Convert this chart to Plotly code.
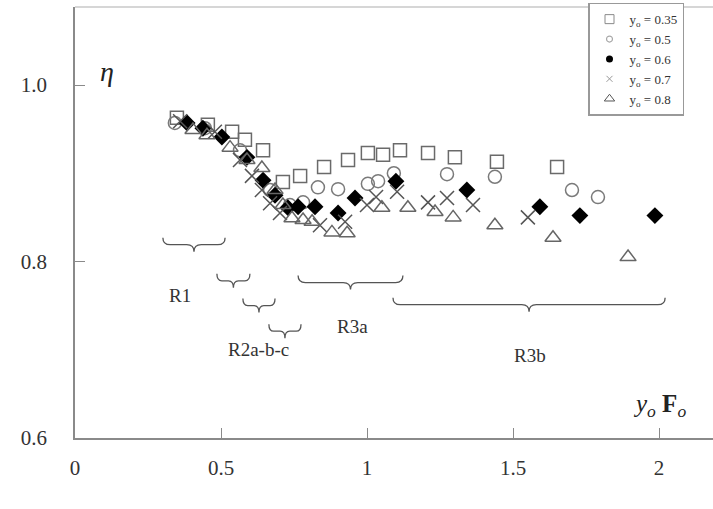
import plotly.graph_objects as go

# ---- data ----
x_035 = [0.349, 0.455, 0.538, 0.582, 0.644, 0.712, 0.771, 0.853, 0.935, 1.003, 1.055, 1.113, 1.209, 1.301, 1.445, 1.651]
y_035 = [0.963, 0.955, 0.947, 0.938, 0.926, 0.890, 0.897, 0.907, 0.915, 0.923, 0.921, 0.926, 0.923, 0.918, 0.913, 0.907]

x_05 = [0.342, 0.445, 0.565, 0.668, 0.736, 0.781, 0.832, 0.901, 1.003, 1.038, 1.092, 1.274, 1.438, 1.702, 1.791]
y_05 = [0.957, 0.951, 0.926, 0.881, 0.864, 0.867, 0.884, 0.882, 0.888, 0.891, 0.900, 0.899, 0.896, 0.881, 0.873]

x_06 = [0.384, 0.438, 0.503, 0.589, 0.644, 0.685, 0.729, 0.764, 0.822, 0.901, 0.959, 1.099, 1.342, 1.592, 1.729, 1.986]
y_06 = [0.957, 0.951, 0.941, 0.918, 0.892, 0.875, 0.861, 0.862, 0.862, 0.855, 0.872, 0.891, 0.881, 0.862, 0.852, 0.852]

x_07 = [0.360, 0.479, 0.565, 0.606, 0.640, 0.668, 0.702, 0.839, 0.925, 1.000, 1.031, 1.103, 1.209, 1.274, 1.363, 1.551]
y_07 = [0.959, 0.947, 0.915, 0.897, 0.881, 0.866, 0.855, 0.841, 0.845, 0.864, 0.873, 0.879, 0.867, 0.872, 0.864, 0.850]

x_08 = [0.404, 0.452, 0.531, 0.589, 0.640, 0.685, 0.712, 0.743, 0.781, 0.812, 0.880, 0.932, 1.051, 1.140, 1.233, 1.295, 1.438, 1.637, 1.894]
y_08 = [0.949, 0.943, 0.929, 0.915, 0.906, 0.881, 0.864, 0.849, 0.847, 0.845, 0.833, 0.832, 0.861, 0.861, 0.856, 0.850, 0.841, 0.827, 0.805]

legend_labels = ["y<sub>o</sub> = 0.35", "y<sub>o</sub> = 0.5", "y<sub>o</sub> = 0.6",
                 "y<sub>o</sub> = 0.7", "y<sub>o</sub> = 0.8"]

x_tick_vals = [0, 0.5, 1, 1.5, 2]
x_tick_text = ["0", "0.5", "1", "1.5", "2"]
y_tick_vals = [0.6, 0.8, 1.0]
y_tick_text = ["0.6", "0.8", "1.0"]

# regime braces: start, end, top level
brace_x0 = [0.301, 0.486, 0.575, 0.664, 0.764, 1.089]
brace_x1 = [0.514, 0.599, 0.685, 0.774, 1.123, 2.021]
brace_y = [0.827, 0.786, 0.758, 0.729, 0.784, 0.759]
region_labels = ["R1", "R2a-b-c", "R3a", "R3b"]
region_x = [0.360, 0.627, 0.949, 1.558]
region_y = [0.762, 0.700, 0.726, 0.693]

SERIF = "Liberation Serif"
GRAY = "#8a8a8a"

fig = go.Figure()

series = [
    (x_035, y_035, dict(symbol="square-open", size=13, color="#6a6a6a", line=dict(width=1.5))),
    (x_05, y_05, dict(symbol="circle-open", size=13, color="#7a7a7a", line=dict(width=1.5))),
    (x_06, y_06, dict(symbol="diamond", size=13, color="#000000", line=dict(width=0))),
    (x_07, y_07, dict(symbol="x-thin-open", size=14, color="#555555", line=dict(width=1.5))),
    (x_08, y_08, dict(symbol="triangle-up-open", size=14, color="#666666", line=dict(width=1.5))),
]
for xs, ys, mk in series:
    fig.add_trace(go.Scatter(x=xs, y=ys, mode="markers", marker=mk,
                             showlegend=False, hoverinfo="skip"))

legend_markers = [
    dict(symbol="square-open", size=9, color="#8a8a8a", line=dict(width=1)),
    dict(symbol="circle-open", size=6, color="#aaaaaa", line=dict(width=1.2)),
    dict(symbol="circle", size=7, color="#000000"),
    dict(symbol="x-thin-open", size=6, color="#999999", line=dict(width=1)),
    dict(symbol="triangle-up-open", size=9, color="#555555", line=dict(width=1)),
]
for lab, mk in zip(legend_labels, legend_markers):
    fig.add_trace(go.Scatter(x=[None], y=[None], mode="markers", marker=mk,
                             name=lab, showlegend=True))

# braces
px_per_y = 882.5
d_mid = 7 / px_per_y
d_tip = 14 / px_per_y
for x0, x1, yt in zip(brace_x0, brace_x1, brace_y):
    xm = (x0 + x1) / 2
    ym = yt - d_mid
    yb = yt - d_tip
    e = min(0.025, (x1 - x0) * 0.15)
    path = (f"M {x0},{yt} Q {x0},{ym} {x0+e},{ym} L {xm-e},{ym} "
            f"Q {xm},{ym} {xm},{yb} Q {xm},{ym} {xm+e},{ym} "
            f"L {x1-e},{ym} Q {x1},{ym} {x1},{yt}")
    fig.add_shape(type="path", path=path, xref="x", yref="y",
                  line=dict(color="#555555", width=1.3))

for lab, xx, yy in zip(region_labels, region_x, region_y):
    fig.add_annotation(x=xx, y=yy, text=lab, showarrow=False,
                       font=dict(family=SERIF, size=19, color="#333333"))

fig.add_annotation(x=0.11, y=1.015, text="<i>η</i>", showarrow=False,
                   font=dict(family=SERIF, size=28, color="#222222"))
fig.add_annotation(x=2.0, y=0.637, text="<i>y<sub>o</sub></i> <b>F</b><sub><i>o</i></sub>",
                   showarrow=False, font=dict(family=SERIF, size=25, color="#222222"))

# top frame line
fig.add_shape(type="line", xref="paper", yref="paper", x0=0, x1=1, y0=1, y1=1,
              line=dict(color="#d6d6d6", width=2))

fig.update_layout(
    width=713, height=509,
    margin=dict(l=75, r=0, t=7, b=71),
    paper_bgcolor="white", plot_bgcolor="white",
    showlegend=True,
    legend=dict(x=(588 - 75) / 638, y=1.01, xanchor="left", yanchor="top",
                bgcolor="white", bordercolor="#999999", borderwidth=1.5,
                font=dict(family=SERIF, size=13, color="#333333"),
                tracegroupgap=0, itemwidth=30),
    xaxis=dict(range=[0, 638 / 292], tickvals=x_tick_vals, ticktext=x_tick_text,
               showgrid=False, zeroline=False, showline=True, linecolor=GRAY, linewidth=1.5,
               ticks="inside", ticklen=10, tickcolor=GRAY, tickwidth=1.2,
               tickfont=dict(family=SERIF, size=21, color="#333333"), ticklabelstandoff=10),
    yaxis=dict(range=[0.6, 0.6 + 431 / 882.5], tickvals=y_tick_vals, ticktext=y_tick_text,
               showgrid=False, zeroline=False, showline=True, linecolor=GRAY, linewidth=1.5,
               ticks="inside", ticklen=10, tickcolor=GRAY, tickwidth=1.2,
               tickfont=dict(family=SERIF, size=21, color="#333333"), ticklabelstandoff=22),
)

fig.write_html("out.html", config={"displayModeBar": False},
               post_script="document.body.style.margin='0';document.body.style.padding='0';"
                           "document.body.style.overflow='hidden';")
